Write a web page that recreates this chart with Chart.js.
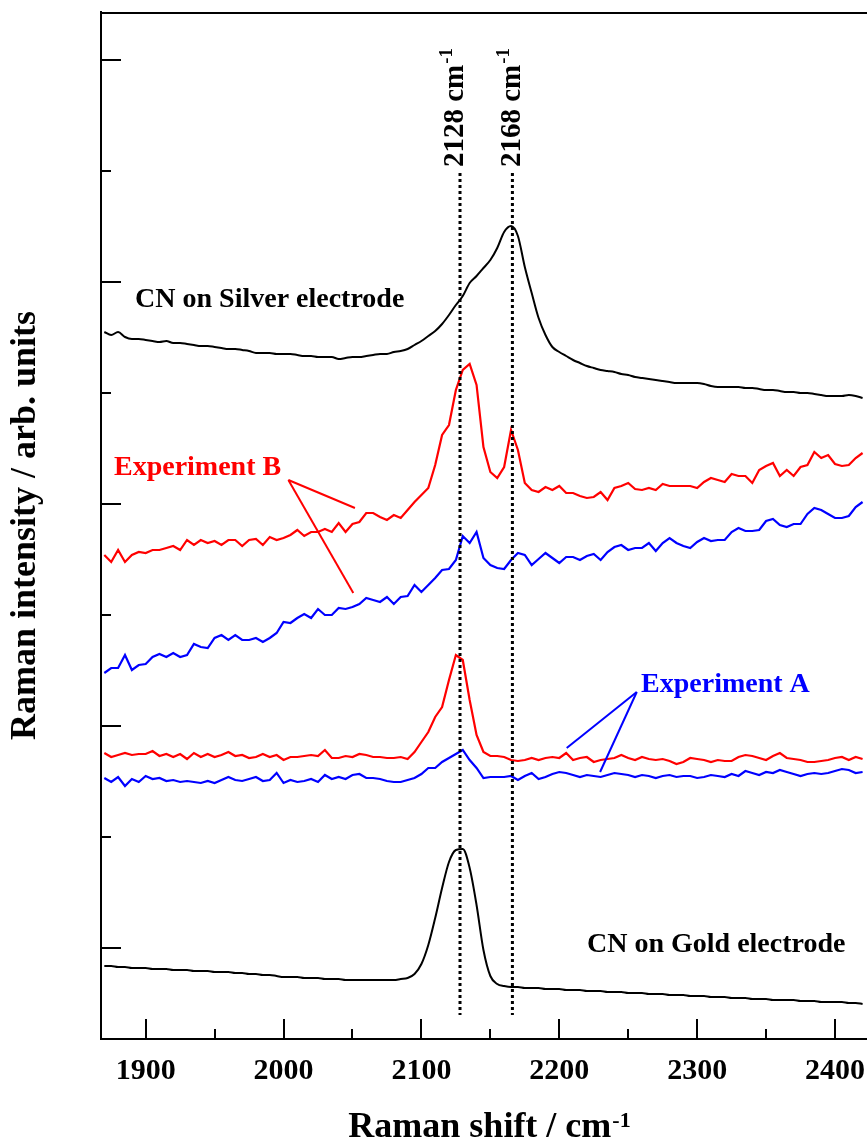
<!DOCTYPE html>
<html><head><meta charset="utf-8">
<script src="https://cdn.jsdelivr.net/npm/chart.js@4.4.1/dist/chart.umd.min.js"></script>
<style>html,body{margin:0;padding:0;background:#fff;overflow:hidden}#wrap{width:867px;height:1146px;position:relative}</style>
</head><body><div id="wrap"><canvas id="c"></canvas></div>
<script>
// Raman shift (cm-1) sample positions
const wavenumbers = [1870,1875,1880,1885,1890,1895,1900,1905,1910,1915,1920,1925,1930,1935,1940,1945,1950,1955,1960,1965,1970,1975,1980,1985,1990,1995,2000,2005,2010,2015,2020,2025,2030,2035,2040,2045,2050,2055,2060,2065,2070,2075,2080,2085,2090,2095,2100,2105,2110,2115,2120,2125,2130,2135,2140,2145,2150,2155,2160,2165,2170,2175,2180,2185,2190,2195,2200,2205,2210,2215,2220,2225,2230,2235,2240,2245,2250,2255,2260,2265,2270,2275,2280,2285,2290,2295,2300,2305,2310,2315,2320,2325,2330,2335,2340,2345,2350,2355,2360,2365,2370,2375,2380,2385,2390,2395,2400,2405,2410,2415,2420];

// Intensities (arb. units, offset stacked)
const silverCN = [707,704,707,702,700,700,699,698,697,698,696,696,695,694,693,693,692,691,690,690,689,688,686,686,686,685,685,685,684,683,683,682,682,682,680,681,682,682,683,684,685,685,687,688,690,694,698,703,708,715,724,734,743,756,763,771,779,791,807,813,803,772,746,721,704,692,687,683,679,676,673,671,669,668,667,665,664,662,661,660,659,658,657,656,656,656,656,655,653,652,652,652,652,651,651,650,649,649,648,647,647,646,646,645,644,643,643,643,644,643,641];
const expBRed = [484,477,489,477,484,487,486,489,489,491,493,489,499,494,499,496,498,494,499,499,493,499,500,494,502,499,501,504,509,503,507,507,510,507,516,507,515,517,526,526,522,519,524,521,529,537,544,551,574,604,614,649,669,675,654,592,567,561,572,609,589,556,549,547,552,549,553,546,546,543,541,542,547,539,551,553,556,550,549,551,549,555,553,553,553,553,551,557,561,559,557,565,563,563,556,569,573,576,563,569,563,572,574,587,581,584,575,573,574,581,586];
const expBBlue = [366,371,371,384,369,374,375,382,385,382,386,382,384,395,392,391,401,404,399,404,399,399,401,397,401,406,417,416,421,425,421,430,424,424,431,430,432,435,441,439,437,442,435,442,443,454,447,454,461,469,470,479,503,496,507,481,474,471,470,479,486,484,474,480,486,481,476,482,482,479,483,485,479,487,492,494,489,491,491,496,488,496,501,496,493,491,497,501,498,499,499,507,511,508,508,509,518,520,514,512,515,515,525,531,529,525,521,521,523,532,537];
const expARed = [286,282,284,286,284,285,285,288,283,285,282,285,280,286,282,285,282,284,287,283,284,281,282,285,282,284,279,282,282,283,284,283,289,281,281,283,282,285,284,282,282,281,281,282,280,287,297,307,322,332,359,384,379,339,304,287,283,283,282,279,278,279,281,279,281,282,281,286,279,281,282,277,279,280,281,284,281,279,282,280,279,280,278,275,277,281,280,279,277,279,278,278,282,284,283,281,279,283,286,281,280,279,277,277,278,279,281,282,279,282,280];
const expABlue = [261,257,262,253,260,257,263,260,261,258,259,257,258,257,256,258,256,259,262,259,258,260,262,258,259,266,256,259,257,258,260,257,264,260,262,260,264,265,261,261,260,258,257,257,259,261,265,271,271,277,281,285,289,279,271,261,262,262,262,263,259,263,266,260,262,265,267,266,264,262,264,263,262,264,266,265,264,262,264,263,261,263,264,262,263,263,261,262,264,263,262,265,263,268,266,264,267,266,269,267,265,263,265,266,265,266,268,270,269,266,267];
const goldCN = [73,73,72,72,71,71,71,70,70,70,69,69,69,68,68,68,67,67,67,66,66,65,65,64,64,63,62,62,62,61,61,61,60,60,60,59,59,59,59,59,59,59,59,60,61,65,75,94,121,151,177,189,190,171,134,89,63,55,53,52,52,51,51,51,50,50,50,49,49,49,48,48,48,47,47,47,46,46,46,45,45,45,44,44,44,43,43,43,42,42,42,41,41,41,40,40,40,39,39,39,39,38,38,38,37,37,37,37,36,36,35];

// Axis ticks
const xTickValues = [1900,1950,2000,2050,2100,2150,2200,2250,2300,2350,2400];
const xTickLabels = ['1900','','2000','','2100','','2200','','2300','','2400'];
const yTickValues = [91,202,313,424,535,646,757,868,979];

// Marked peak positions
const peakLines = [2128,2166];
const peakLabels = ['2128 cm','2168 cm'];

const FONT = "'Liberation Serif','Times New Roman',Times,serif";

const seriesDefs = [
  {label:'CN on Silver electrode', data:silverCN, color:'#000000', w:2, smooth:true},
  {label:'Experiment B (red)', data:expBRed, color:'#ff0000', w:2.2, smooth:false},
  {label:'Experiment B (blue)', data:expBBlue, color:'#0000ff', w:2.2, smooth:false},
  {label:'Experiment A (red)', data:expARed, color:'#ff0000', w:2.2, smooth:false},
  {label:'Experiment A (blue)', data:expABlue, color:'#0000ff', w:2.2, smooth:false},
  {label:'CN on Gold electrode', data:goldCN, color:'#000000', w:2, smooth:true}
];

const annotationTexts = [
  {text:'CN on Silver electrode', x:1892.3, y:732, color:'#000000'},
  {text:'Experiment B', x:1877.0, y:564, color:'#ff0000'},
  {text:'Experiment A', x:2259.3, y:347, color:'#0000ff'},
  {text:'CN on Gold electrode', x:2220.1, y:87, color:'#000000'}
];
const pointerLines = [
  {color:'#ff0000', pts:[[2003.5,559],[2051.8,531]]},
  {color:'#ff0000', pts:[[2003.5,559],[2050.6,446]]},
  {color:'#0000ff', pts:[[2256.2,347],[2205.4,291]]},
  {color:'#0000ff', pts:[[2256.2,347],[2229.6,267]]}
];
const peakLabelPos = [{x:2130.2,y:872},{x:2171.5,y:872}];
const peakLineSpan = [24,866];

const overlay = {
  id:'overlay',
  afterDatasetsDraw(chart){
    const {ctx, chartArea:a, scales:{x, y}} = chart;
    ctx.save();
    ctx.strokeStyle = '#000'; ctx.lineWidth = 2; ctx.setLineDash([]);
    // top frame
    ctx.beginPath(); ctx.moveTo(a.left, a.top+1); ctx.lineTo(a.right+2, a.top+1); ctx.stroke();
    // inward tick marks
    x.ticks.forEach(t => {
      const px = Math.round(x.getPixelForValue(t.value));
      const len = (t.value % 100 === 0) ? 20 : 10;
      ctx.beginPath(); ctx.moveTo(px, a.bottom); ctx.lineTo(px, a.bottom - len); ctx.stroke();
    });
    y.ticks.forEach((t, i) => {
      const py = Math.round(y.getPixelForValue(t.value));
      const len = (i % 2 === 0) ? 20 : 10;
      ctx.beginPath(); ctx.moveTo(a.left, py); ctx.lineTo(a.left + len, py); ctx.stroke();
    });
    // dotted peak lines
    ctx.lineWidth = 3; ctx.setLineDash([3,3]);
    peakLines.forEach(v => {
      const px = x.getPixelForValue(v);
      ctx.beginPath(); ctx.moveTo(px, y.getPixelForValue(peakLineSpan[1])); ctx.lineTo(px, y.getPixelForValue(peakLineSpan[0])); ctx.stroke();
    });
    ctx.setLineDash([]);
    // peak labels, rotated with superscript
    ctx.fillStyle = '#000';
    peakLabels.forEach((txt, i) => {
      const px = x.getPixelForValue(peakLabelPos[i].x), py = y.getPixelForValue(peakLabelPos[i].y);
      ctx.save(); ctx.translate(px, py); ctx.rotate(-Math.PI/2);
      ctx.textAlign = 'left'; ctx.textBaseline = 'alphabetic';
      ctx.font = 'bold 29px ' + FONT;
      ctx.fillText(txt, 0, 0);
      const w = ctx.measureText(txt).width;
      ctx.font = 'bold 19px ' + FONT;
      ctx.fillText('-1', w + 1, -11);
      ctx.restore();
    });
    // pointer lines
    ctx.lineWidth = 2;
    pointerLines.forEach(l => {
      ctx.strokeStyle = l.color;
      ctx.beginPath();
      ctx.moveTo(x.getPixelForValue(l.pts[0][0]), y.getPixelForValue(l.pts[0][1]));
      ctx.lineTo(x.getPixelForValue(l.pts[1][0]), y.getPixelForValue(l.pts[1][1]));
      ctx.stroke();
    });
    // annotation texts
    ctx.font = 'bold 28px ' + FONT; ctx.textAlign = 'left'; ctx.textBaseline = 'alphabetic';
    annotationTexts.forEach(t => {
      ctx.fillStyle = t.color;
      ctx.fillText(t.text, x.getPixelForValue(t.x), y.getPixelForValue(t.y));
    });
    // x axis title with superscript
    ctx.fillStyle = '#000';
    const main = 'Raman shift / cm', sup = '-1';
    ctx.font = 'bold 36px ' + FONT; const w1 = ctx.measureText(main).width;
    ctx.font = 'bold 22px ' + FONT; const w2 = ctx.measureText(sup).width;
    const cx = (a.left + a.right) / 2 + 5;
    const x0 = cx - (w1 + w2) / 2, base = a.bottom + 98;
    ctx.font = 'bold 36px ' + FONT; ctx.fillText(main, x0, base);
    ctx.font = 'bold 22px ' + FONT; ctx.fillText(sup, x0 + w1 + 1, base - 10);
    ctx.restore();
  }
};

new Chart(document.getElementById('c'), {
  type:'line',
  data:{
    datasets: seriesDefs.map(s => ({
      label:s.label,
      data: wavenumbers.map((wn, i) => ({x:wn, y:s.data[i]})),
      borderColor:s.color, backgroundColor:s.color, borderWidth:s.w,
      pointRadius:0, tension:0, fill:false,
      cubicInterpolationMode: s.smooth ? 'monotone' : 'default'
    }))
  },
  options:{
    animation:false, responsive:true, maintainAspectRatio:false,
    layout:{padding:{top:12, right:0, left:0, bottom:0}},
    plugins:{legend:{display:false}, tooltip:{enabled:false}},
    scales:{
      x:{
        type:'linear', min:1867.6, max:2423.2,
        afterBuildTicks: s => { s.ticks = xTickValues.map(v => ({value:v})); },
        ticks:{callback:(v, i) => xTickLabels[i], font:{family:FONT, size:30, weight:'bold'}, color:'#000', padding:6, maxRotation:0, autoSkip:false},
        grid:{display:false},
        border:{display:true, color:'#000', width:2},
        title:{display:false},
        afterFit: s => { s.height = 107; s.paddingLeft = 0; s.paddingRight = 0; }
      },
      y:{
        type:'linear', min:0, max:1027,
        afterBuildTicks: s => { s.ticks = yTickValues.map(v => ({value:v})); },
        ticks:{display:false},
        grid:{display:false},
        border:{display:true, color:'#000', width:2},
        title:{display:true, text:'Raman intensity / arb. units', color:'#000', font:{family:FONT, size:36, weight:'bold'}, padding:{top:4, bottom:0}},
        afterFit: s => { s.width = 101; }
      }
    }
  },
  plugins:[overlay]
});
</script></body></html>
